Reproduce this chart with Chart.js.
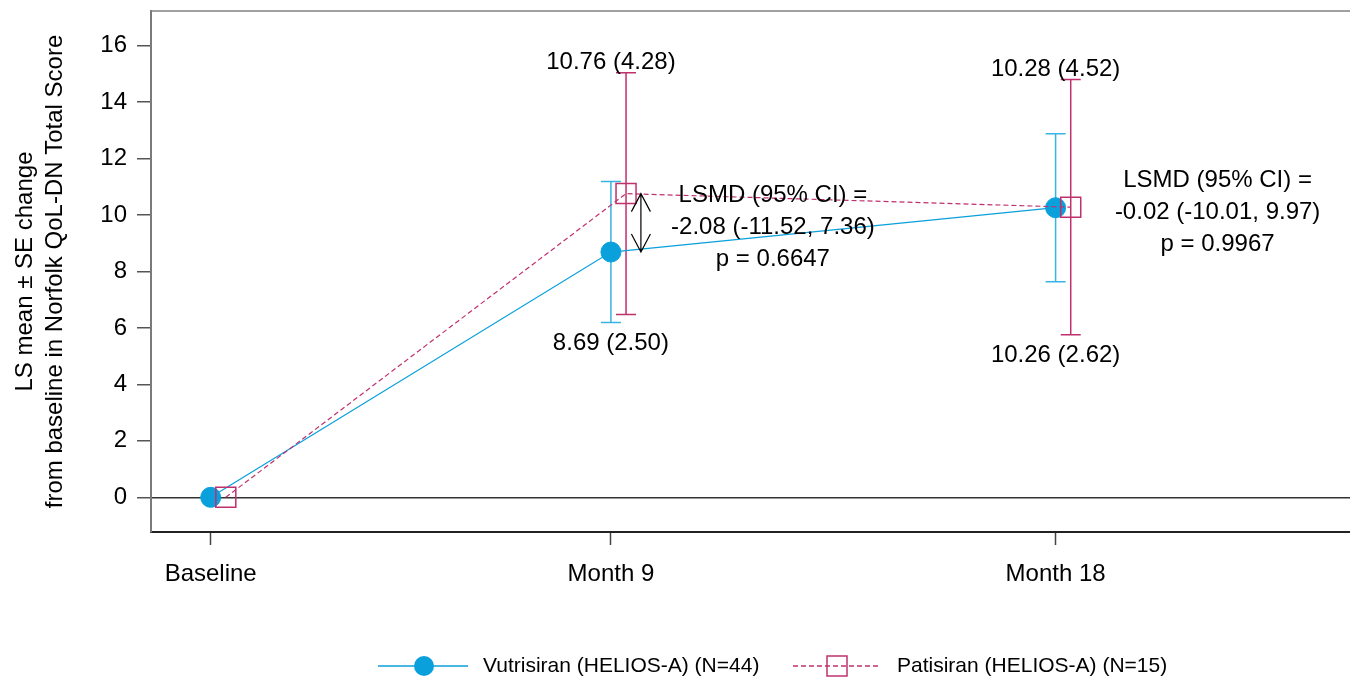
<!DOCTYPE html>
<html>
<head>
<meta charset="utf-8">
<script src="https://cdn.jsdelivr.net/npm/chart.js@4.4.1/dist/chart.umd.min.js"></script>
<style>
  html, body { margin: 0; padding: 0; background: #fff; }
  #chart { display: block; }
</style>
</head>
<body>
<canvas id="chart" width="1350" height="683"></canvas>
<script>
// Visits and where they sit on the time axis
const visitLabels = ['Baseline', 'Month 9', 'Month 18'];
const visitPos = [0, 9, 19];

// LS mean change and SE by visit
const vutriMean = [0, 8.69, 10.26];
const vutriSE = [0, 2.50, 2.62];
const patiMean = [0, 10.76, 10.28];
const patiSE = [0, 4.28, 4.52];

// Between-group comparison at Month 9 and Month 18
const lsmdVisit = [1, 2];
const lsmd = [-2.08, -0.02];
const lsmdLow = [-11.52, -10.01];
const lsmdHigh = [7.36, 9.97];
const pValues = ['0.6647', '0.9967'];

const yTickValues = [0, 2, 4, 6, 8, 10, 12, 14, 16];

const vutriColor = '#0aa0dc';
const vutriBarColor = '#38b4e4';
const patiColor = '#c0306e';
const FONT = '"Liberation Sans", Arial, sans-serif';
const dodge = 0.34; // patisiran drawn a bit right of the visit

function noPadding(s) {
    s.paddingLeft = 0; s.paddingRight = 0;
    s.paddingTop = 0; s.paddingBottom = 0;
}

const errorBars = {
    id: 'errorBars',
    beforeDatasetsDraw(chart) {
        const ctx = chart.ctx;
        const y = chart.scales.y;
        const sets = [[vutriMean, vutriSE, vutriBarColor, 1], [patiMean, patiSE, patiColor, 0]];
        sets.forEach(([mean, se, color, dsIndex]) => {
            const meta = chart.getDatasetMeta(dsIndex);
            ctx.save();
            ctx.strokeStyle = color;
            ctx.lineWidth = 1.5;
            mean.forEach((m, i) => {
                if (!se[i]) return;
                const x = meta.data[i].x;
                const top = y.getPixelForValue(m + se[i]);
                const bot = y.getPixelForValue(m - se[i]);
                ctx.beginPath();
                ctx.moveTo(x, top); ctx.lineTo(x, bot);
                ctx.moveTo(x - 10, top); ctx.lineTo(x + 10, top);
                ctx.moveTo(x - 10, bot); ctx.lineTo(x + 10, bot);
                ctx.stroke();
            });
            ctx.restore();
        });
    }
};

const annotations = {
    id: 'annotations',
    afterDatasetsDraw(chart) {
        const ctx = chart.ctx;
        const xs = chart.scales.x, ys = chart.scales.y;
        ctx.save();
        ctx.fillStyle = '#000';
        ctx.font = '24px ' + FONT;
        ctx.textAlign = 'center';
        ctx.textBaseline = 'alphabetic';
        for (let i = 1; i < visitPos.length; i++) {
            const cx = xs.getPixelForValue(visitPos[i]);
            const hi = Math.min(ys.getPixelForValue(vutriMean[i] + vutriSE[i]), ys.getPixelForValue(patiMean[i] + patiSE[i]));
            const lo = Math.max(ys.getPixelForValue(vutriMean[i] - vutriSE[i]), ys.getPixelForValue(patiMean[i] - patiSE[i]));
            ctx.fillText(patiMean[i].toFixed(2) + ' (' + patiSE[i].toFixed(2) + ')', cx, hi - 4);
            ctx.fillText(vutriMean[i].toFixed(2) + ' (' + vutriSE[i].toFixed(2) + ')', cx, lo + 27);
        }
        ctx.textBaseline = 'middle';
        lsmdVisit.forEach((v, k) => {
            const cx = xs.getPixelForValue(visitPos[v]) + 162;
            const mid = (ys.getPixelForValue(vutriMean[v]) + ys.getPixelForValue(patiMean[v])) / 2 + 5;
            ctx.fillText('LSMD (95% CI) =', cx, mid - 32);
            ctx.fillText(lsmd[k].toFixed(2) + ' (' + lsmdLow[k].toFixed(2) + ', ' + lsmdHigh[k].toFixed(2) + ')', cx, mid);
            ctx.fillText('p = ' + pValues[k], cx, mid + 32);

            // double-headed arrow between the two means when they differ
            const y1 = ys.getPixelForValue(patiMean[v]);
            const y2 = ys.getPixelForValue(vutriMean[v]);
            if (Math.abs(y2 - y1) > 30) {
                const ax = xs.getPixelForValue(visitPos[v]) + 30;
                ctx.strokeStyle = '#000';
                ctx.lineWidth = 1.2;
                ctx.beginPath();
                ctx.moveTo(ax, y1); ctx.lineTo(ax, y2);
                ctx.moveTo(ax - 9.5, y1 + 18); ctx.lineTo(ax, y1); ctx.lineTo(ax + 9.5, y1 + 18);
                ctx.moveTo(ax - 9.5, y2 - 18); ctx.lineTo(ax, y2); ctx.lineTo(ax + 9.5, y2 - 18);
                ctx.stroke();
            }
        });
        ctx.restore();
    },
    afterDraw(chart) {
        const ctx = chart.ctx;
        const a = chart.chartArea;
        ctx.save();
        // top frame line
        ctx.strokeStyle = '#808080';
        ctx.lineWidth = 1.5;
        ctx.beginPath();
        ctx.moveTo(a.left, a.top); ctx.lineTo(a.right, a.top);
        ctx.stroke();

        // legend
        const ly = 666;
        const ds = chart.data.datasets;
        ctx.font = '21px ' + FONT;
        ctx.fillStyle = '#000';
        ctx.textAlign = 'left';
        ctx.textBaseline = 'middle';

        ctx.strokeStyle = vutriColor;
        ctx.lineWidth = 1.3;
        ctx.beginPath(); ctx.moveTo(378, ly); ctx.lineTo(468, ly); ctx.stroke();
        ctx.fillStyle = vutriColor;
        ctx.beginPath(); ctx.arc(424, ly, 10, 0, Math.PI * 2); ctx.fill();
        ctx.fillStyle = '#000';
        ctx.fillText(ds[1].label, 483, ly);

        ctx.strokeStyle = patiColor;
        ctx.setLineDash([5, 3]);
        ctx.beginPath(); ctx.moveTo(793, ly); ctx.lineTo(880, ly); ctx.stroke();
        ctx.setLineDash([]);
        ctx.lineWidth = 1.5;
        ctx.strokeRect(827, ly - 10, 20, 20);
        ctx.fillText(ds[0].label, 897, ly);
        ctx.restore();
    }
};

function initChart() {
    const ctx = document.getElementById('chart').getContext('2d');
    new Chart(ctx, {
        type: 'line',
        data: {
            datasets: [{
                label: 'Patisiran (HELIOS-A) (N=15)',
                data: visitPos.map((x, i) => ({ x: x + dodge, y: patiMean[i] })),
                borderColor: patiColor,
                borderWidth: 1.2,
                borderDash: [5, 3],
                pointStyle: 'rect',
                pointRadius: 14.14,
                pointBackgroundColor: 'rgba(0,0,0,0)',
                pointBorderColor: patiColor,
                pointBorderWidth: 1.5,
                tension: 0
            }, {
                label: 'Vutrisiran (HELIOS-A) (N=44)',
                data: visitPos.map((x, i) => ({ x: x, y: vutriMean[i] })),
                borderColor: vutriColor,
                borderWidth: 1.3,
                pointStyle: 'circle',
                pointRadius: 10,
                pointBackgroundColor: vutriColor,
                pointBorderColor: vutriColor,
                pointBorderWidth: 1,
                tension: 0
            }]
        },
        options: {
            responsive: false,
            animation: false,
            events: [],
            layout: { autoPadding: false, padding: { left: 0, right: 0, top: 11, bottom: 81 } },
            scales: {
                x: {
                    type: 'linear',
                    min: -1.342,
                    max: 25.62,
                    afterBuildTicks: s => { s.ticks = visitPos.map(v => ({ value: v })); },
                    afterFit: s => { s.height = 70; noPadding(s); },
                    ticks: {
                        callback: v => visitLabels[visitPos.indexOf(v)],
                        color: '#000',
                        font: { family: FONT, size: 24 },
                        padding: 15,
                        maxRotation: 0,
                        autoSkip: false
                    },
                    grid: { drawOnChartArea: false, tickLength: 13, tickColor: '#444', tickWidth: 1.5 },
                    border: { color: '#222', width: 2 }
                },
                y: {
                    min: -1.229,
                    max: 17.23,
                    afterBuildTicks: s => { s.ticks = yTickValues.map(v => ({ value: v })); },
                    afterFit: s => { s.width = 151; noPadding(s); },
                    ticks: {
                        color: '#000',
                        font: { family: FONT, size: 24 },
                        padding: 10
                    },
                    grid: {
                        color: c => (c.tick && c.tick.value === 0) ? '#333' : 'rgba(0,0,0,0)',
                        lineWidth: 1.5,
                        tickColor: '#555',
                        tickLength: 14,
                        tickWidth: 1.5
                    },
                    border: { color: '#7a7a7a', width: 2 },
                    title: {
                        display: true,
                        text: ['LS mean \u00b1 SE change', 'from baseline in Norfolk QoL-DN Total Score'],
                        color: '#000',
                        font: { family: FONT, size: 24, lineHeight: 1.25 },
                        padding: { top: 10, bottom: 0 }
                    }
                }
            },
            plugins: {
                legend: { display: false },
                tooltip: { enabled: false }
            }
        },
        plugins: [errorBars, annotations]
    });
}

window.onload = initChart;
</script>
</body>
</html>
